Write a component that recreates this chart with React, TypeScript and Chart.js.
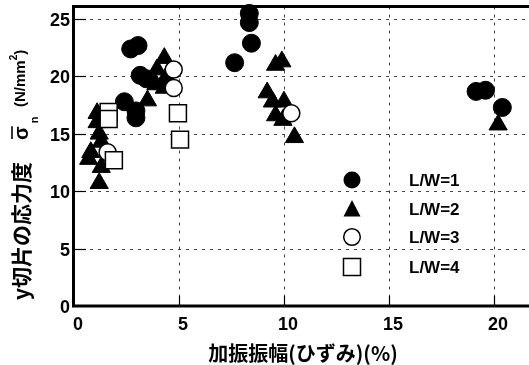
import React, { useEffect, useRef } from "react";
import { Chart, registerables } from "chart.js";

Chart.register(...registerables);

// L/W = 1 (filled circles)
const lw1X = [2.7, 3.05, 3.15, 3.45, 2.4, 2.95, 2.95, 8.35, 8.35, 8.45, 7.65, 19.15, 19.6, 20.4];
const lw1Y = [22.4, 22.7, 20.1, 19.8, 17.8, 17.0, 16.4, 25.5, 24.7, 22.9, 21.2, 18.7, 18.8, 17.3];
// L/W = 2 (filled triangles)
const lw2X = [9.6, 9.9, 9.2, 9.45, 10.0, 9.6, 9.95, 10.5, 20.2, 4.3, 3.95, 4.4, 3.9, 4.3, 3.5, 1.1, 1.1, 1.2, 1.3, 0.8, 0.7, 1.3, 1.2];
const lw2Y = [21.0, 21.3, 18.6, 17.8, 17.8, 16.6, 16.2, 14.7, 15.8, 21.6, 20.6, 20.0, 19.3, 19.0, 17.9, 16.8, 16.0, 15.0, 14.3, 13.4, 12.8, 12.1, 10.7];
// L/W = 3 (open circles)
const lw3X = [4.75, 4.75, 10.35, 1.6];
const lw3Y = [20.6, 19.0, 16.8, 13.4];
// L/W = 4 (open squares)
const lw4X = [1.65, 1.65, 1.9, 4.95, 5.05];
const lw4Y = [16.9, 16.3, 12.7, 16.8, 14.5];

const xTicks = [0, 5, 10, 15, 20];
const yTicks = [0, 5, 10, 15, 20, 25];
const legendLabels = ["L/W=1", "L/W=2", "L/W=3", "L/W=4"];

const xTitle = "加振振幅(ひずみ)(%)";
const yTitleMain = "y切片の応力度";
const yUnit = "(N/mm";

const pts = (xs: number[], ys: number[]) => xs.map((x, i) => ({ x, y: ys[i] }));

const LATIN = '"Liberation Sans", Arial, sans-serif';
const CJK = '"Noto Sans CJK JP", sans-serif';

function drawMarker(ctx: CanvasRenderingContext2D, kind: number, x: number, y: number) {
  ctx.save();
  ctx.lineWidth = 1.5;
  ctx.strokeStyle = "#000";
  ctx.beginPath();
  if (kind === 0) {
    ctx.arc(x, y, 8.5, 0, Math.PI * 2);
    ctx.fillStyle = "#000";
    ctx.fill();
  } else if (kind === 1) {
    ctx.moveTo(x, y - 9);
    ctx.lineTo(x + 8.5, y + 7.5);
    ctx.lineTo(x - 8.5, y + 7.5);
    ctx.closePath();
    ctx.fillStyle = "#000";
    ctx.fill();
  } else if (kind === 2) {
    ctx.arc(x, y, 8.3, 0, Math.PI * 2);
    ctx.fillStyle = "#fff";
    ctx.fill();
    ctx.stroke();
  } else {
    ctx.rect(x - 8.5, y - 8.5, 17, 17);
    ctx.fillStyle = "#fff";
    ctx.fill();
    ctx.stroke();
  }
  ctx.restore();
}

const framePlugin = {
  id: "frame",
  beforeDatasetsDraw(chart: any) {
    const { ctx, chartArea: a, scales } = chart;
    ctx.save();
    ctx.strokeStyle = "#444";
    ctx.lineWidth = 1;
    ctx.setLineDash([3, 5]);
    xTicks.slice(1).forEach((v) => {
      const px = Math.round(scales.x.getPixelForValue(v)) + 0.5;
      ctx.beginPath();
      ctx.moveTo(px, a.top);
      ctx.lineTo(px, a.bottom);
      ctx.stroke();
    });
    yTicks.slice(1).forEach((v) => {
      const py = Math.round(scales.y.getPixelForValue(v)) + 0.5;
      ctx.beginPath();
      ctx.moveTo(a.left, py);
      ctx.lineTo(a.right, py);
      ctx.stroke();
    });
    ctx.restore();
  },
  afterDatasetsDraw(chart: any) {
    const { ctx, chartArea: a, scales } = chart;
    ctx.save();
    ctx.strokeStyle = "#000";
    ctx.setLineDash([]);
    // inward tick marks
    ctx.lineWidth = 1.2;
    xTicks.slice(1).forEach((v) => {
      const px = Math.round(scales.x.getPixelForValue(v)) + 0.5;
      ctx.beginPath();
      ctx.moveTo(px, a.bottom);
      ctx.lineTo(px, a.bottom - 10);
      ctx.stroke();
    });
    yTicks.slice(1).forEach((v) => {
      const py = Math.round(scales.y.getPixelForValue(v)) + 0.5;
      ctx.beginPath();
      ctx.moveTo(a.left, py);
      ctx.lineTo(a.left + 12, py);
      ctx.stroke();
    });
    // frame lines (left, bottom, top)
    ctx.lineWidth = 3;
    ctx.beginPath();
    ctx.moveTo(a.left - 0.5, a.top - 1);
    ctx.lineTo(a.left - 0.5, a.bottom);
    ctx.lineTo(a.right, a.bottom);
    ctx.stroke();
    ctx.beginPath();
    ctx.moveTo(a.left - 2, a.top);
    ctx.lineTo(a.right, a.top);
    ctx.stroke();

    // tick labels
    ctx.fillStyle = "#000";
    ctx.font = `bold 18px ${LATIN}`;
    ctx.textAlign = "right";
    ctx.textBaseline = "middle";
    yTicks.forEach((v) => {
      const py = scales.y.getPixelForValue(v);
      ctx.fillText(String(v), a.left - 4, py + 2);
    });
    ctx.textAlign = "center";
    xTicks.forEach((v) => {
      const px = scales.x.getPixelForValue(v);
      ctx.fillText(String(v), px + 4, a.bottom + 19);
    });

    // x title
    ctx.font = `bold 20px ${CJK}`;
    ctx.fillText(xTitle, 303, 353);

    // y title (rotated)
    ctx.save();
    ctx.translate(21, 300);
    ctx.rotate(-Math.PI / 2);
    ctx.textAlign = "left";
    ctx.textBaseline = "middle";
    ctx.font = `bold 21px ${CJK}`;
    ctx.fillText(yTitleMain, 0, 0);
    // sigma with overline and subscript n
    ctx.font = `bold 20px ${LATIN}`;
    const sx = 160;
    ctx.fillText("σ", sx, 1);
    const sw = ctx.measureText("σ").width;
    ctx.lineWidth = 1.6;
    ctx.beginPath();
    ctx.moveTo(sx + 1, -9);
    ctx.lineTo(sx + sw, -9);
    ctx.stroke();
    ctx.font = `bold 11px ${LATIN}`;
    ctx.fillText("n", sx + sw + 3, 14);
    // unit
    ctx.font = `bold 15px ${LATIN}`;
    const ux = 193;
    ctx.fillText(yUnit, ux, 0);
    const uw = ctx.measureText(yUnit).width;
    ctx.font = `bold 10px ${LATIN}`;
    ctx.fillText("2", ux + uw, -7);
    const w2 = ctx.measureText("2").width;
    ctx.font = `bold 15px ${LATIN}`;
    ctx.fillText(")", ux + uw + w2, 0);
    ctx.restore();

    // legend
    const ly = [180, 209, 237, 267];
    legendLabels.forEach((lab, i) => {
      drawMarker(ctx, i, 352, ly[i]);
      ctx.font = `bold 17px ${LATIN}`;
      ctx.textAlign = "left";
      ctx.textBaseline = "middle";
      ctx.fillStyle = "#000";
      ctx.fillText(lab, 409, ly[i] + 1);
    });
    ctx.restore();
  },
};

export default function App() {
  const ref = useRef<HTMLCanvasElement | null>(null);
  useEffect(() => {
    if (!ref.current) return;
    const chart = new Chart(ref.current, {
      type: "scatter",
      data: {
        datasets: [
          {
            label: legendLabels[0],
            data: pts(lw1X, lw1Y),
            pointStyle: "circle",
            pointRadius: 9,
            backgroundColor: "#000",
            borderColor: "#000",
            borderWidth: 1,
            order: 4,
            clip: false,
          },
          {
            label: legendLabels[1],
            data: pts(lw2X, lw2Y),
            pointStyle: "triangle",
            pointRadius: 10.5,
            backgroundColor: "#000",
            borderColor: "#000",
            borderWidth: 1,
            order: 3,
            clip: false,
          },
          {
            label: legendLabels[2],
            data: pts(lw3X, lw3Y),
            pointStyle: "circle",
            pointRadius: 8.5,
            backgroundColor: "#fff",
            borderColor: "#000",
            borderWidth: 1.5,
            order: 2,
            clip: false,
          },
          {
            label: legendLabels[3],
            data: pts(lw4X, lw4Y),
            pointStyle: "rect",
            pointRadius: 12,
            backgroundColor: "#fff",
            borderColor: "#000",
            borderWidth: 1.5,
            order: 1,
            clip: false,
          },
        ],
      },
      options: {
        animation: false,
        responsive: false,
        devicePixelRatio: 1,
        layout: { autoPadding: false, padding: { top: 6.5, right: 0, left: 0, bottom: 0 } },
        plugins: { legend: { display: false }, tooltip: { enabled: false } },
        scales: {
          x: {
            type: "linear",
            min: 0,
            max: 21.67,
            ticks: { display: false },
            grid: { display: false },
            border: { display: false },
            afterFit: (s: any) => {
              s.height = 59;
            },
          },
          y: {
            type: "linear",
            min: 0,
            max: 26.1,
            ticks: { display: false },
            grid: { display: false },
            border: { display: false },
            afterFit: (s: any) => {
              s.width = 74;
            },
          },
        },
      },
      plugins: [framePlugin],
    } as any);
    return () => chart.destroy();
  }, []);
  return (
    <div style={{ position: "fixed", left: 0, top: 0, width: 529, height: 365, background: "#fff" }}>
      <canvas ref={ref} width={529} height={365} style={{ display: "block" }} />
    </div>
  );
}
